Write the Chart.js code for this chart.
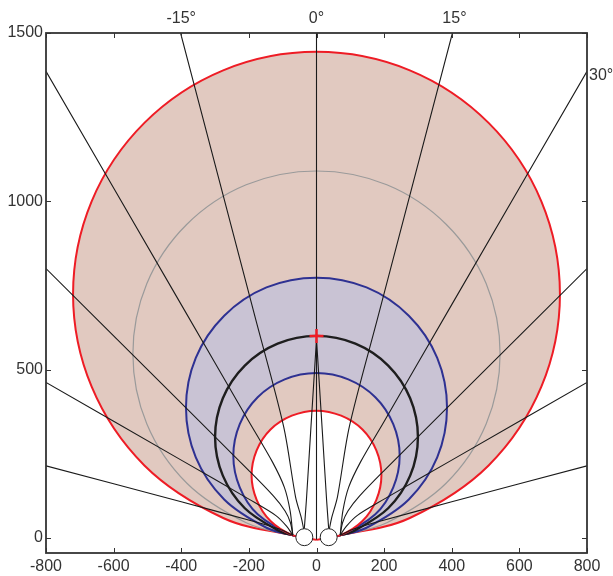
<!DOCTYPE html>
<html><head><meta charset="utf-8">
<script src="https://cdn.jsdelivr.net/npm/chart.js@4.4.0/dist/chart.umd.min.js"></script>
<style>html,body{margin:0;padding:0;background:#fff;}canvas{display:block;}</style>
</head><body>
<canvas id="c" width="613" height="576"></canvas>
<script>
// ---- tick labels ----
const xTickValues = [-800,-600,-400,-200,0,200,400,600,800];
const yTickValues = [0,500,1000,1500];
const angleTickValues = [-400,0,408];
const angleTickLabels = ['-15°','0°','15°'];
const sideTickValues = [1372];
const sideTickLabels = ['30°'];

// ---- contour curves (x, y) ----
const outerRed = [[0,4],[70,8],[276,59],[509,215],[665,449],[720,724],[665,1000],[509,1233],[276,1389],[0,1444],[-276,1389],[-509,1233],[-665,1000],[-720,724],[-665,449],[-509,215],[-276,59],[-70,8],[0,4]];
const greyRing = [[0,4],[70,8],[208,45],[384,163],[502,339],[543,547],[502,755],[384,931],[208,1049],[0,1090],[-208,1049],[-384,931],[-502,755],[-543,547],[-502,339],[-384,163],[-208,45],[-70,8],[0,4]];
const outerBlue = [[0,1],[70,8],[148,30],[273,114],[357,239],[386,387],[357,535],[273,660],[148,744],[0,773],[-148,744],[-273,660],[-357,535],[-386,387],[-357,239],[-273,114],[-148,30],[-70,8],[0,1]];
const blackRing = [[0,0],[70,8],[115,23],[212,88],[277,185],[300,300],[277,415],[212,512],[115,577],[0,600],[-115,577],[-212,512],[-277,415],[-300,300],[-277,185],[-212,88],[-115,23],[-70,8],[0,0]];
const innerBlue = [[0,-2],[70,8],[174,70],[227,150],[246,244],[227,338],[174,418],[94,471],[0,490],[-94,471],[-174,418],[-227,338],[-246,244],[-227,150],[-174,70],[-70,8],[0,-2]];
const innerRed = [[0,-6],[73,9],[136,50],[177,113],[192,186],[177,260],[136,322],[73,363],[0,378],[-73,363],[-136,322],[-177,260],[-192,186],[-177,113],[-136,50],[-73,9],[0,-6]];

// ---- field lines ----
const lineL75 = [[-800,214],[-400,107],[-190,50],[-110,26],[-70,8]];
const lineL60 = [[-800,462],[-400,231],[-200,115],[-120,66],[-88,34],[-70,8]];
const lineL45 = [[-800,800],[-400,400],[-200,200],[-127,124],[-93,80],[-77,45],[-70,8]];
const lineL30 = [[-800,1386],[-400,693],[-200,346],[-130,225],[-95,150],[-78,80],[-70,8]];
const lineL15 = [[-402,1500],[-180,650],[-97,330],[-62,122],[-45,60],[-38,26]];
const lineLV  = [[0,590],[-17,320],[-30,110],[-36,28]];
const lineR75 = [[800,214],[400,107],[190,50],[110,26],[70,8]];
const lineR60 = [[800,462],[400,231],[200,115],[120,66],[88,34],[70,8]];
const lineR45 = [[800,800],[400,400],[200,200],[127,124],[93,80],[77,45],[70,8]];
const lineR30 = [[800,1386],[400,693],[200,346],[130,225],[95,150],[78,80],[70,8]];
const lineR15 = [[402,1500],[180,650],[97,330],[62,122],[45,60],[38,26]];
const lineRV  = [[0,590],[17,320],[30,110],[36,28]];
const line0   = [[0,-5],[0,1500]];

const conductors = [[-36,2],[36,2]];
const centerMark = [[0,600]];

const pts = a => a.map(p => ({x:p[0], y:p[1]}));
const F = '"Liberation Sans", Arial, sans-serif';
const TXT = '#333';

function curve(data, color, width, fillColor){
  return {data:pts(data), showLine:true, borderColor:color, borderWidth:width, pointRadius:0,
          tension:0.34, fill: fillColor ? 'shape' : false, backgroundColor: fillColor || 'transparent'};
}
function fline(data){
  return {data:pts(data), showLine:true, borderColor:'#1a1a1a', borderWidth:1.1, pointRadius:0, tension:0.3, fill:false};
}

const datasets = [
  {data:pts(conductors), showLine:false, pointRadius:8.5, pointBackgroundColor:'#fff', pointBorderColor:'#222', pointBorderWidth:1},
  {data:pts(centerMark), showLine:false, pointStyle:'cross', pointRadius:7, pointBorderColor:'#ee1c25', pointBorderWidth:2.5},
  fline(lineLV), fline(lineRV), fline(line0),
  fline(lineL15), fline(lineR15), fline(lineL30), fline(lineR30),
  fline(lineL45), fline(lineR45), fline(lineL60), fline(lineR60), fline(lineL75), fline(lineR75),
  curve(innerRed, '#ee1c25', 2, '#ffffff'),
  curve(innerBlue, '#2e3192', 2, '#e1c9c0'),
  curve(blackRing, '#1e1e1e', 2.4, null),
  curve(outerBlue, '#2e3192', 2, '#c9c3d4'),
  curve(greyRing, '#9a9a9a', 1.2, null),
  curve(outerRed, '#ee1c25', 2, '#e1c9c0')
];

const framePlugin = {
  id:'frame',
  afterDatasetsDraw(chart){
    const {ctx, chartArea:a, scales} = chart;
    ctx.save();
    ctx.strokeStyle = '#333';
    ctx.lineWidth = 1;
    ctx.beginPath();
    xTickValues.forEach(v => { const p = Math.round(scales.x.getPixelForValue(v))+0.5;
      ctx.moveTo(p, a.top); ctx.lineTo(p, a.top+5); ctx.moveTo(p, a.bottom); ctx.lineTo(p, a.bottom-5); });
    yTickValues.forEach(v => { const p = Math.round(scales.y.getPixelForValue(v))+0.5;
      ctx.moveTo(a.left, p); ctx.lineTo(a.left+5, p); ctx.moveTo(a.right, p); ctx.lineTo(a.right-5, p); });
    ctx.stroke();
    ctx.lineWidth = 1.8;
    ctx.strokeRect(a.left, a.top, a.right-a.left, a.bottom-a.top);
    ctx.restore();
  }
};

const tickFont = {family:F, size:16};
const noGrid = {display:false, drawTicks:false, tickLength:0};
new Chart(document.getElementById('c'), {
  type:'scatter',
  data:{datasets},
  plugins:[framePlugin],
  options:{
    responsive:false, animation:false, devicePixelRatio:1, events:[],
    layout:{padding:0},
    plugins:{legend:{display:false}, tooltip:{enabled:false}},
    scales:{
      x:{type:'linear', position:'bottom', min:-800, max:800,
         afterBuildTicks:s => { s.ticks = xTickValues.map(v => ({value:v})); },
         ticks:{font:tickFont, color:TXT, padding:4, maxRotation:0, autoSkip:false, callback:v => String(v)},
         grid:noGrid, border:{display:false},
         afterFit:s => { s.height = 23; }},
      x2:{type:'linear', position:'top', min:-800, max:800,
         afterBuildTicks:s => { s.ticks = angleTickValues.map(v => ({value:v})); },
         ticks:{font:tickFont, color:TXT, padding:5, maxRotation:0, autoSkip:false, callback:(v,i) => angleTickLabels[i]},
         grid:noGrid, border:{display:false},
         afterFit:s => { s.height = 33; }},
      y:{type:'linear', position:'left', min:-45, max:1500,
         afterBuildTicks:s => { s.ticks = yTickValues.map(v => ({value:v})); },
         ticks:{font:tickFont, color:TXT, padding:3, autoSkip:false, callback:v => String(v)},
         grid:noGrid, border:{display:false},
         afterFit:s => { s.width = 46; }},
      y2:{type:'linear', position:'right', min:-45, max:1500,
         afterBuildTicks:s => { s.ticks = sideTickValues.map(v => ({value:v})); },
         ticks:{font:tickFont, color:TXT, padding:2, autoSkip:false, callback:(v,i) => sideTickLabels[i]},
         grid:noGrid, border:{display:false},
         afterFit:s => { s.width = 26; }}
    }
  }
});
</script>
</body></html>
